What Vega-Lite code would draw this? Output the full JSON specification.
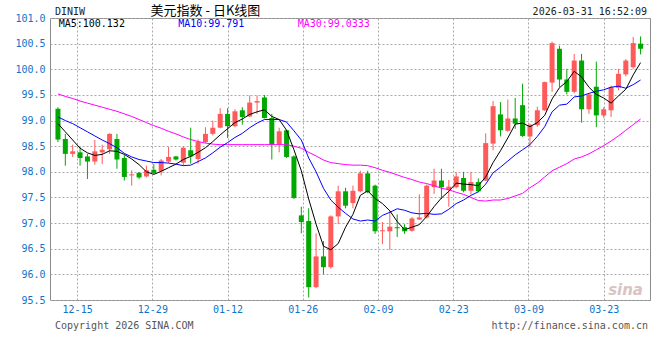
{
  "$schema": "https://vega.github.io/schema/vega-lite/v6.json",
  "width": 600,
  "height": 282,
  "autosize": {"type": "none"},
  "padding": {"left": 50, "top": 18, "right": 10, "bottom": 60},
  "background": "white",
  "config": {
    "view": {"stroke": "#8c8c8c", "strokeWidth": 1},
    "text": {"font": "DejaVu Sans Mono", "fontSize": 10}
  },
  "datasets": {
    "k": [
      {"i":0,"o":99.23,"h":99.26,"l":98.58,"c":98.63,"ma5":98.94,"ma10":99.07,"ma30":99.52},
      {"i":1,"o":98.64,"h":98.74,"l":98.12,"c":98.35,"ma5":98.78,"ma10":99.00,"ma30":99.47},
      {"i":2,"o":98.35,"h":98.53,"l":98.29,"c":98.40,"ma5":98.62,"ma10":98.94,"ma30":99.43},
      {"i":3,"o":98.38,"h":98.49,"l":98.12,"c":98.27,"ma5":98.46,"ma10":98.86,"ma30":99.38},
      {"i":4,"o":98.30,"h":98.35,"l":97.86,"c":98.20,"ma5":98.37,"ma10":98.78,"ma30":99.34},
      {"i":5,"o":98.20,"h":98.62,"l":98.14,"c":98.40,"ma5":98.32,"ma10":98.70,"ma30":99.30},
      {"i":6,"o":98.38,"h":98.53,"l":98.15,"c":98.43,"ma5":98.34,"ma10":98.62,"ma30":99.26},
      {"i":7,"o":98.44,"h":98.75,"l":98.35,"c":98.74,"ma5":98.41,"ma10":98.55,"ma30":99.22},
      {"i":8,"o":98.64,"h":98.74,"l":98.06,"c":98.24,"ma5":98.40,"ma10":98.47,"ma30":99.18},
      {"i":9,"o":98.27,"h":98.33,"l":97.83,"c":97.90,"ma5":98.34,"ma10":98.36,"ma30":99.13},
      {"i":10,"o":97.93,"h":98.03,"l":97.73,"c":97.95,"ma5":98.25,"ma10":98.29,"ma30":99.08},
      {"i":11,"o":97.98,"h":98.00,"l":97.86,"c":97.89,"ma5":98.14,"ma10":98.24,"ma30":99.02},
      {"i":12,"o":97.91,"h":98.12,"l":97.89,"c":98.03,"ma5":98.00,"ma10":98.21,"ma30":98.96},
      {"i":13,"o":98.04,"h":98.15,"l":97.95,"c":97.98,"ma5":97.95,"ma10":98.18,"ma30":98.90},
      {"i":14,"o":98.01,"h":98.25,"l":97.93,"c":98.22,"ma5":98.01,"ma10":98.18,"ma30":98.85},
      {"i":15,"o":98.20,"h":98.49,"l":98.17,"c":98.29,"ma5":98.08,"ma10":98.17,"ma30":98.79},
      {"i":16,"o":98.30,"h":98.31,"l":98.22,"c":98.24,"ma5":98.15,"ma10":98.15,"ma30":98.74},
      {"i":17,"o":98.18,"h":98.49,"l":98.12,"c":98.47,"ma5":98.24,"ma10":98.12,"ma30":98.68},
      {"i":18,"o":98.42,"h":98.86,"l":98.16,"c":98.30,"ma5":98.30,"ma10":98.13,"ma30":98.63},
      {"i":19,"o":98.25,"h":98.63,"l":98.16,"c":98.58,"ma5":98.38,"ma10":98.20,"ma30":98.59},
      {"i":20,"o":98.58,"h":98.87,"l":98.56,"c":98.74,"ma5":98.47,"ma10":98.27,"ma30":98.56},
      {"i":21,"o":98.74,"h":99.00,"l":98.71,"c":98.86,"ma5":98.59,"ma10":98.37,"ma30":98.54},
      {"i":22,"o":98.86,"h":99.24,"l":98.85,"c":99.13,"ma5":98.72,"ma10":98.48,"ma30":98.53},
      {"i":23,"o":99.13,"h":99.24,"l":98.66,"c":98.89,"ma5":98.84,"ma10":98.57,"ma30":98.53},
      {"i":24,"o":98.89,"h":99.22,"l":98.87,"c":99.18,"ma5":98.96,"ma10":98.67,"ma30":98.53},
      {"i":25,"o":99.20,"h":99.26,"l":98.92,"c":99.07,"ma5":99.03,"ma10":98.75,"ma30":98.53},
      {"i":26,"o":99.08,"h":99.49,"l":99.07,"c":99.35,"ma5":99.12,"ma10":98.86,"ma30":98.53},
      {"i":27,"o":99.35,"h":99.49,"l":99.13,"c":99.38,"ma5":99.17,"ma10":98.95,"ma30":98.53},
      {"i":28,"o":99.45,"h":99.50,"l":99.04,"c":99.05,"ma5":99.21,"ma10":99.02,"ma30":98.53},
      {"i":29,"o":99.05,"h":99.13,"l":98.24,"c":98.53,"ma5":99.08,"ma10":99.02,"ma30":98.53},
      {"i":30,"o":98.53,"h":98.86,"l":98.38,"c":98.79,"ma5":99.02,"ma10":99.02,"ma30":98.53},
      {"i":31,"o":98.81,"h":98.82,"l":98.27,"c":98.29,"ma5":98.81,"ma10":98.97,"ma30":98.53},
      {"i":32,"o":98.30,"h":98.32,"l":97.47,"c":97.49,"ma5":98.43,"ma10":98.80,"ma30":98.50},
      {"i":33,"o":97.15,"h":97.32,"l":96.80,"c":97.02,"ma5":98.02,"ma10":98.62,"ma30":98.46},
      {"i":34,"o":97.04,"h":97.29,"l":95.55,"c":95.75,"ma5":97.47,"ma10":98.27,"ma30":98.38},
      {"i":35,"o":95.75,"h":96.80,"l":95.73,"c":96.35,"ma5":96.98,"ma10":98.00,"ma30":98.31},
      {"i":36,"o":96.35,"h":96.65,"l":96.00,"c":96.14,"ma5":96.55,"ma10":97.68,"ma30":98.23},
      {"i":37,"o":96.14,"h":97.15,"l":96.11,"c":97.13,"ma5":96.48,"ma10":97.45,"ma30":98.18},
      {"i":38,"o":97.13,"h":97.73,"l":96.98,"c":97.62,"ma5":96.60,"ma10":97.31,"ma30":98.16},
      {"i":39,"o":97.62,"h":97.69,"l":97.29,"c":97.34,"ma5":96.92,"ma10":97.19,"ma30":98.14},
      {"i":40,"o":97.39,"h":97.73,"l":97.29,"c":97.63,"ma5":97.17,"ma10":97.08,"ma30":98.13},
      {"i":41,"o":97.62,"h":98.02,"l":97.60,"c":97.97,"ma5":97.54,"ma10":97.04,"ma30":98.13},
      {"i":42,"o":97.97,"h":98.02,"l":97.58,"c":97.60,"ma5":97.63,"ma10":97.06,"ma30":98.12},
      {"i":43,"o":97.73,"h":97.75,"l":96.79,"c":96.84,"ma5":97.48,"ma10":97.04,"ma30":98.08},
      {"i":44,"o":96.84,"h":97.02,"l":96.59,"c":96.86,"ma5":97.38,"ma10":97.15,"ma30":98.03},
      {"i":45,"o":96.84,"h":97.24,"l":96.48,"c":96.93,"ma5":97.24,"ma10":97.21,"ma30":97.99},
      {"i":46,"o":96.92,"h":97.17,"l":96.73,"c":96.90,"ma5":97.03,"ma10":97.28,"ma30":97.94},
      {"i":47,"o":96.92,"h":96.98,"l":96.79,"c":96.84,"ma5":96.87,"ma10":97.25,"ma30":97.89},
      {"i":48,"o":96.85,"h":97.12,"l":96.83,"c":97.09,"ma5":96.92,"ma10":97.20,"ma30":97.85},
      {"i":49,"o":97.07,"h":97.56,"l":97.06,"c":97.11,"ma5":96.97,"ma10":97.18,"ma30":97.80},
      {"i":50,"o":97.11,"h":97.75,"l":97.09,"c":97.73,"ma5":97.13,"ma10":97.19,"ma30":97.77},
      {"i":51,"o":97.70,"h":98.06,"l":97.57,"c":97.83,"ma5":97.32,"ma10":97.17,"ma30":97.73},
      {"i":52,"o":97.83,"h":98.06,"l":97.47,"c":97.70,"ma5":97.49,"ma10":97.18,"ma30":97.68},
      {"i":53,"o":97.65,"h":97.84,"l":97.32,"c":97.71,"ma5":97.62,"ma10":97.27,"ma30":97.65},
      {"i":54,"o":97.70,"h":97.99,"l":97.68,"c":97.91,"ma5":97.78,"ma10":97.38,"ma30":97.60},
      {"i":55,"o":97.88,"h":98.00,"l":97.60,"c":97.63,"ma5":97.76,"ma10":97.45,"ma30":97.56},
      {"i":56,"o":97.63,"h":98.00,"l":97.56,"c":97.80,"ma5":97.75,"ma10":97.54,"ma30":97.50},
      {"i":57,"o":97.80,"h":97.87,"l":97.60,"c":97.62,"ma5":97.73,"ma10":97.61,"ma30":97.44},
      {"i":58,"o":97.83,"h":98.75,"l":97.82,"c":98.56,"ma5":97.90,"ma10":97.76,"ma30":97.43},
      {"i":59,"o":98.55,"h":99.38,"l":98.42,"c":99.28,"ma5":98.18,"ma10":97.98,"ma30":97.45},
      {"i":60,"o":99.12,"h":99.36,"l":98.69,"c":98.81,"ma5":98.41,"ma10":98.09,"ma30":97.45},
      {"i":61,"o":98.80,"h":99.41,"l":98.78,"c":99.04,"ma5":98.66,"ma10":98.21,"ma30":97.48},
      {"i":62,"o":99.04,"h":99.44,"l":98.84,"c":98.94,"ma5":98.93,"ma10":98.33,"ma30":97.53},
      {"i":63,"o":99.30,"h":99.72,"l":98.68,"c":98.70,"ma5":98.95,"ma10":98.43,"ma30":97.58},
      {"i":64,"o":98.69,"h":98.94,"l":98.48,"c":98.92,"ma5":98.88,"ma10":98.53,"ma30":97.69},
      {"i":65,"o":98.91,"h":99.27,"l":98.88,"c":99.20,"ma5":98.96,"ma10":98.69,"ma30":97.78},
      {"i":66,"o":99.20,"h":99.76,"l":99.19,"c":99.75,"ma5":99.10,"ma10":98.88,"ma30":97.90},
      {"i":67,"o":99.74,"h":100.54,"l":99.56,"c":100.51,"ma5":99.42,"ma10":99.17,"ma30":98.02},
      {"i":68,"o":100.40,"h":100.46,"l":99.65,"c":99.80,"ma5":99.64,"ma10":99.30,"ma30":98.09},
      {"i":69,"o":99.80,"h":100.01,"l":99.51,"c":99.56,"ma5":99.76,"ma10":99.32,"ma30":98.16},
      {"i":70,"o":99.56,"h":100.30,"l":99.53,"c":100.17,"ma5":99.96,"ma10":99.46,"ma30":98.25},
      {"i":71,"o":100.17,"h":100.30,"l":98.96,"c":99.22,"ma5":99.85,"ma10":99.48,"ma30":98.29},
      {"i":72,"o":99.22,"h":99.52,"l":99.13,"c":99.51,"ma5":99.65,"ma10":99.53,"ma30":98.35},
      {"i":73,"o":99.66,"h":100.15,"l":98.87,"c":99.10,"ma5":99.51,"ma10":99.57,"ma30":98.43},
      {"i":74,"o":99.10,"h":99.26,"l":99.05,"c":99.22,"ma5":99.44,"ma10":99.60,"ma30":98.51},
      {"i":75,"o":99.20,"h":99.68,"l":99.07,"c":99.65,"ma5":99.34,"ma10":99.65,"ma30":98.60},
      {"i":76,"o":99.64,"h":100.01,"l":99.59,"c":99.91,"ma5":99.48,"ma10":99.67,"ma30":98.70},
      {"i":77,"o":99.90,"h":100.20,"l":99.86,"c":100.17,"ma5":99.61,"ma10":99.63,"ma30":98.81},
      {"i":78,"o":100.04,"h":100.63,"l":100.01,"c":100.51,"ma5":99.89,"ma10":99.70,"ma30":98.92},
      {"i":79,"o":100.50,"h":100.64,"l":100.29,"c":100.40,"ma5":100.13,"ma10":99.79,"ma30":99.03}
    ]
  },
  "data": {"name": "k"},
  "layer": [
    {
      "mark": {"type": "rule", "strokeWidth": 1},
      "encoding": {
        "x": {
          "field": "i", "type": "quantitative",
          "scale": {"domain": [-0.4, 79.6], "nice": false, "zero": false},
          "axis": {
            "title": null,
            "values": [2.6, 12.8, 23, 33.2, 43.4, 53.6, 63.8, 74],
            "tickCount": 20,
            "labelExpr": "datum.value < 5 ? '12-15' : datum.value < 15 ? '12-29' : datum.value < 25 ? '01-12' : datum.value < 35 ? '01-26' : datum.value < 45 ? '02-09' : datum.value < 55 ? '02-23' : datum.value < 65 ? '03-09' : '03-23'",
            "labelPadding": 4,
            "labelFlush": false,
            "labelOverlap": false,
            "labelFont": "DejaVu Sans Mono",
            "labelFontSize": 10,
            "labelColor": "#0f74c8",
            "ticks": false,
            "domain": false,
            "grid": true,
            "gridColor": "#a8a8a8",
            "gridDash": [2, 2],
            "gridWidth": 1
          }
        },
        "y": {
          "field": "l", "type": "quantitative",
          "scale": {"domain": [95.5, 101], "nice": false, "zero": false},
          "axis": {
            "title": null,
            "values": [95.5, 96, 96.5, 97, 97.5, 98, 98.5, 99, 99.5, 100, 100.5, 101],
            "tickCount": 20,
            "format": ".1f",
            "labelPadding": 5,
            "labelOverlap": false,
            "labelBound": false,
            "labelFlush": false,
            "labelFont": "DejaVu Sans Mono",
            "labelFontSize": 10,
            "labelColor": "#0f74c8",
            "ticks": false,
            "domain": false,
            "grid": true,
            "gridColor": "#a8a8a8",
            "gridDash": [2, 2],
            "gridWidth": 1
          }
        },
        "y2": {"field": "h"},
        "color": {"condition": {"test": "datum.c >= datum.o", "value": "#ff5a5a"}, "value": "#00a800"}
      }
    },
    {
      "mark": {"type": "bar", "width": 5},
      "encoding": {
        "x": {"field": "i", "type": "quantitative"},
        "y": {"field": "o", "type": "quantitative"},
        "y2": {"field": "c"},
        "color": {"condition": {"test": "datum.c >= datum.o", "value": "#ff5a5a"}, "value": "#00a800"}
      }
    },
    {
      "mark": {"type": "line", "color": "#ff00ff", "strokeWidth": 1},
      "encoding": {
        "x": {"field": "i", "type": "quantitative"},
        "y": {"field": "ma30", "type": "quantitative"}
      }
    },
    {
      "mark": {"type": "line", "color": "#0000ff", "strokeWidth": 1},
      "encoding": {
        "x": {"field": "i", "type": "quantitative"},
        "y": {"field": "ma10", "type": "quantitative"}
      }
    },
    {
      "mark": {"type": "line", "color": "#000000", "strokeWidth": 1},
      "encoding": {
        "x": {"field": "i", "type": "quantitative"},
        "y": {"field": "ma5", "type": "quantitative"}
      }
    },
    {
      "data": {"values": [{"t": "MA5:100.132"}]},
      "mark": {"type": "text", "align": "left", "baseline": "middle", "dy": 6, "color": "#000000"},
      "encoding": {
        "x": {"datum": 0.1, "type": "quantitative"},
        "y": {"datum": 101, "type": "quantitative"},
        "text": {"field": "t"}
      }
    },
    {
      "data": {"values": [{"t": "MA10:99.791"}]},
      "mark": {"type": "text", "align": "left", "baseline": "middle", "dy": 6, "color": "#0000ff"},
      "encoding": {
        "x": {"datum": 16.3, "type": "quantitative"},
        "y": {"datum": 101, "type": "quantitative"},
        "text": {"field": "t"}
      }
    },
    {
      "data": {"values": [{"t": "MA30:99.0333"}]},
      "mark": {"type": "text", "align": "left", "baseline": "middle", "dy": 6, "color": "#ff00ff"},
      "encoding": {
        "x": {"datum": 32.5, "type": "quantitative"},
        "y": {"datum": 101, "type": "quantitative"},
        "text": {"field": "t"}
      }
    },
    {
      "data": {"values": [{"t": "DINIW"}]},
      "mark": {"type": "text", "align": "left", "baseline": "middle", "dy": -6, "color": "#222222"},
      "encoding": {
        "x": {"datum": -0.4, "type": "quantitative"},
        "y": {"datum": 101, "type": "quantitative"},
        "text": {"field": "t"}
      }
    },
    {
      "data": {"values": [{"t": "美元指数 - 日K线图"}]},
      "mark": {"type": "text", "align": "center", "baseline": "middle", "dy": -7, "color": "#000000", "font": "Noto Sans CJK SC", "fontSize": 13},
      "encoding": {
        "x": {"datum": 20, "type": "quantitative"},
        "y": {"datum": 101, "type": "quantitative"},
        "text": {"field": "t"}
      }
    },
    {
      "data": {"values": [{"t": "2026-03-31 16:52:09"}]},
      "mark": {"type": "text", "align": "right", "baseline": "middle", "dy": -6, "dx": 2, "color": "#222222"},
      "encoding": {
        "x": {"datum": 79.6, "type": "quantitative"},
        "y": {"datum": 101, "type": "quantitative"},
        "text": {"field": "t"}
      }
    },
    {
      "data": {"values": [{"t": "Copyright 2026 SINA.COM"}]},
      "mark": {"type": "text", "align": "left", "baseline": "middle", "dy": 26, "color": "#555555"},
      "encoding": {
        "x": {"datum": -0.4, "type": "quantitative"},
        "y": {"datum": 95.5, "type": "quantitative"},
        "text": {"field": "t"}
      }
    },
    {
      "data": {"values": [{"t": "http://finance.sina.com.cn"}]},
      "mark": {"type": "text", "align": "right", "baseline": "middle", "dy": 26, "dx": 3, "color": "#555555"},
      "encoding": {
        "x": {"datum": 79.6, "type": "quantitative"},
        "y": {"datum": 95.5, "type": "quantitative"},
        "text": {"field": "t"}
      }
    },
    {
      "data": {"values": [{"t": "sina"}]},
      "mark": {"type": "text", "align": "right", "baseline": "bottom", "dy": -2, "dx": -2, "color": "#d8c4c4", "font": "DejaVu Sans", "fontSize": 15, "fontWeight": "bold", "fontStyle": "italic"},
      "encoding": {
        "x": {"datum": 79.6, "type": "quantitative"},
        "y": {"datum": 95.5, "type": "quantitative"},
        "text": {"field": "t"}
      }
    }
  ]
}
